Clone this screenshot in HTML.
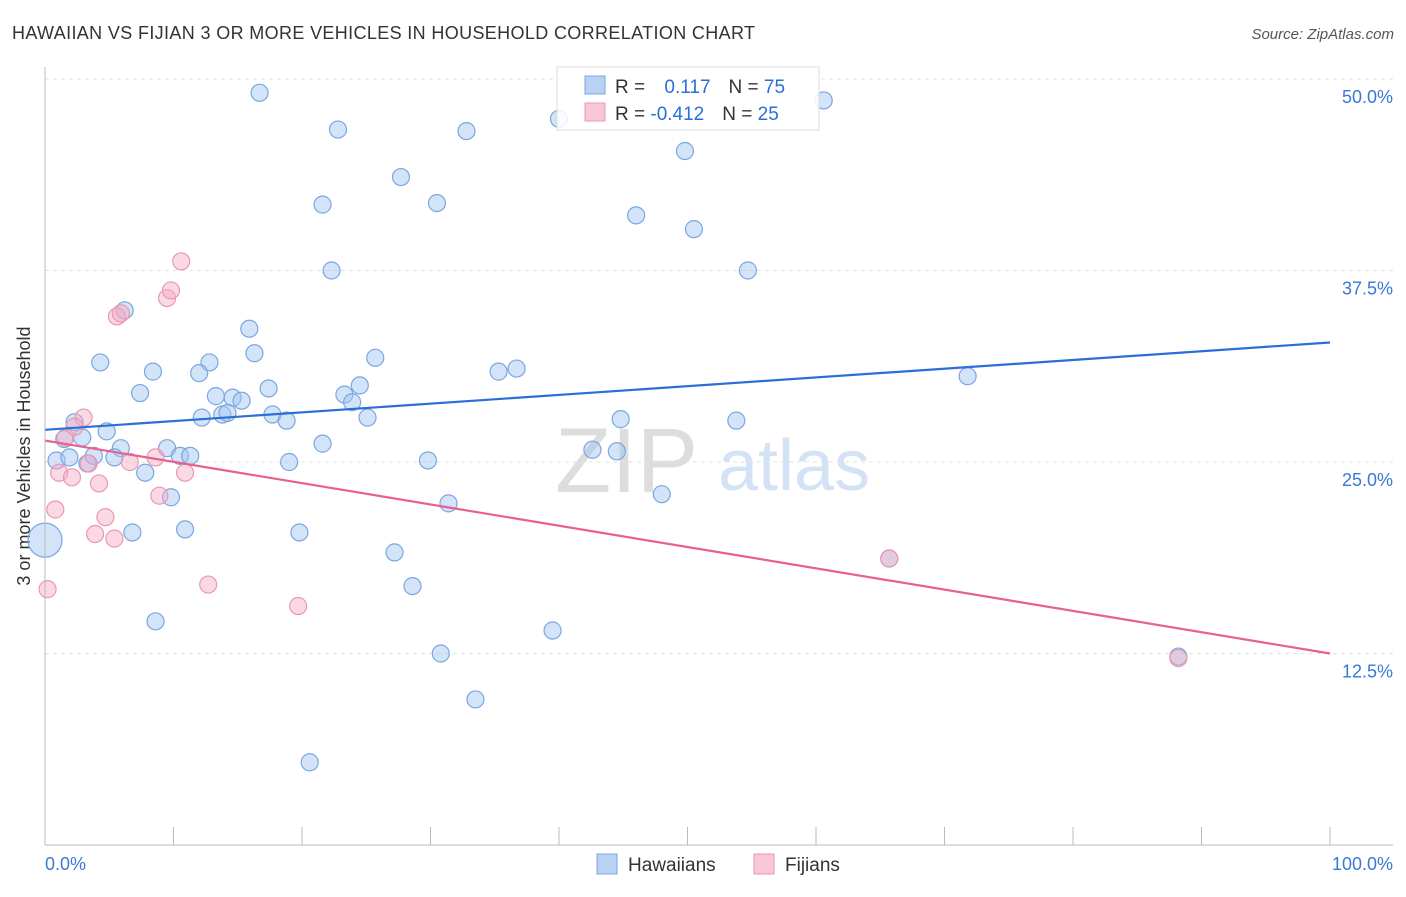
<!DOCTYPE html>
<html><head><meta charset="utf-8"><style>
body{margin:0;background:#fff;font-family:"Liberation Sans",sans-serif}
svg text{font-family:"Liberation Sans",sans-serif}
</style></head><body>
<svg id="c" width="1406" height="892">
<text x="12" y="39" font-size="18" fill="#333" textLength="743">HAWAIIAN VS FIJIAN 3 OR MORE VEHICLES IN HOUSEHOLD CORRELATION CHART</text>
<text x="1394" y="39" font-size="15" fill="#555" text-anchor="end" font-style="italic">Source: ZipAtlas.com</text>
<text x="30" y="456" font-size="18" fill="#333" text-anchor="middle" transform="rotate(-90 30 456)">3 or more Vehicles in Household</text>
<text x="555" y="492" font-size="92" fill="#ddd" font-family="Liberation Serif">ZIP</text>
<text x="718" y="490" font-size="72" fill="#d4e2f6">atlas</text>
<g id="grid"></g><g id="pts"></g><g id="lines"></g>
<line x1="45" y1="67" x2="45" y2="845" stroke="#bbb"/>
<line x1="45" y1="845" x2="1393" y2="845" stroke="#bbb"/>
<text x="45" y="870" font-size="18" fill="#3a78d8">0.0%</text>
<text x="1393" y="870" font-size="18" fill="#3a78d8" text-anchor="end">100.0%</text>
<g>
<rect x="557" y="67" width="262" height="63" fill="rgba(255,255,255,0.85)" stroke="#ddd"/>
<rect x="585" y="76" width="20" height="18" fill="#b8d2f4" stroke="#7aa6e2"/>
<rect x="585" y="103" width="20" height="18" fill="#f8c6d4" stroke="#eb98b2"/>
<text x="615" y="93" font-size="19" fill="#333">R = <tspan fill="#2a6fd6" dx="14">0.117</tspan><tspan fill="#333" dx="18">N = </tspan><tspan fill="#2a6fd6">75</tspan></text>
<text x="615" y="120" font-size="19" fill="#333">R = <tspan fill="#2a6fd6">-0.412</tspan><tspan fill="#333" dx="18">N = </tspan><tspan fill="#2a6fd6">25</tspan></text>
</g>
<g>
<rect x="597" y="854" width="20" height="20" fill="#b8d2f4" stroke="#7aa6e2"/>
<text x="628" y="871" font-size="19" fill="#333">Hawaiians</text>
<rect x="754" y="854" width="20" height="20" fill="#f8c6d4" stroke="#eb98b2"/>
<text x="785" y="871" font-size="19" fill="#333">Fijians</text>
</g>
</svg>
<script>
const yTicks=[50,37.5,25,12.5];
const xTickCount=10;
const hawX=[16.7,22.8,32.8,40,60.6,49.8,27.7,21.6,30.5,46,50.5,22.3,54.7,6.2,15.9,4.3,16.3,12.8,25.7,8.4,12,35.3,36.7,7.4,17.4,24.5,13.3,14.6,15.3,23.3,23.9,12.2,13.8,14.2,17.7,18.8,25.1,44.8,53.8,71.8,2.3,4.8,2.9,1.5,0.9,1.9,3.3,5.9,5.4,3.8,9.5,10.5,11.3,21.6,19,29.8,42.6,44.5,7.8,9.8,31.4,48,6.8,10.9,19.8,27.2,28.6,8.6,39.5,30.8,33.5,20.6,0,65.7,88.2];
const hawY=[49.1,46.7,46.6,47.4,48.6,45.3,43.6,41.8,41.9,41.1,40.2,37.5,37.5,34.9,33.7,31.5,32.1,31.5,31.8,30.9,30.8,30.9,31.1,29.5,29.8,30.0,29.3,29.2,29.0,29.4,28.9,27.9,28.1,28.2,28.1,27.7,27.9,27.8,27.7,30.6,27.6,27.0,26.6,26.5,25.1,25.3,24.9,25.9,25.3,25.4,25.9,25.4,25.4,26.2,25.0,25.1,25.8,25.7,24.3,22.7,22.3,22.9,20.4,20.6,20.4,19.1,16.9,14.6,14.0,12.5,9.5,5.4,19.9,18.7,12.3];
const fijX=[3,2.3,1.6,1.1,2.1,0.8,4.2,3.4,4.7,6.6,8.6,10.9,8.9,3.9,5.4,5.6,5.9,9.5,9.8,10.6,12.7,19.7,0.2,65.7,88.2];
const fijY=[27.9,27.3,26.6,24.3,24,21.9,23.6,24.9,21.4,25,25.3,24.3,22.8,20.3,20,34.5,34.7,35.7,36.2,38.1,17,15.6,16.7,18.7,12.2];
const hawLine=[27.1,32.8];
const fijLine=[26.4,12.5];
const X=v=>45+v*12.85, Y=v=>79+(50-v)*15.32;
const NS="http://www.w3.org/2000/svg";
function mk(t,a,p){const e=document.createElementNS(NS,t);for(const k in a)e.setAttribute(k,a[k]);p.appendChild(e);return e;}
const grid=document.getElementById('grid');
yTicks.forEach(v=>{
 const l=mk('line',{x1:45,x2:1393,y1:Y(v),y2:Y(v),stroke:'#e2e2e2','stroke-dasharray':'4,4'},grid);
 
 
 const t=mk('text',{x:1393,y:Y(v)+24,'font-size':18,fill:'#3a78d8','text-anchor':'end'},grid);
 t.textContent=v.toFixed(1)+'%';
 
 
});
for(let i=1;i<=xTickCount;i++){
 const l=mk('line',{x1:X(i*10),x2:X(i*10),y1:827,y2:845,stroke:'#bbb'},grid);
 
 
}
const pts=document.getElementById('pts');
hawX.forEach((x,i)=>{
 const big=(x===0&&hawY[i]>19&&hawY[i]<21);
 const c=mk('circle',{cx:X(x),cy:Y(hawY[i]),r:big?17:8.5,fill:'rgba(160,196,240,0.45)',stroke:'#7aa6e2','stroke-width':1.2},pts);
 
 
});
fijX.forEach((x,i)=>{
 const c=mk('circle',{cx:X(x),cy:Y(fijY[i]),r:8.5,fill:'rgba(244,170,196,0.45)',stroke:'#eb98b2','stroke-width':1.2},pts);
 
 
});
const lines=document.getElementById('lines');
const h=mk('line',{x1:X(0),y1:Y(hawLine[0]),x2:X(100),y2:Y(hawLine[1]),stroke:'#2a6fd6','stroke-width':2.2},lines);


const f=mk('line',{x1:X(0),y1:Y(fijLine[0]),x2:X(100),y2:Y(fijLine[1]),stroke:'#e8608e','stroke-width':2.2},lines);


</script>
</body></html>
